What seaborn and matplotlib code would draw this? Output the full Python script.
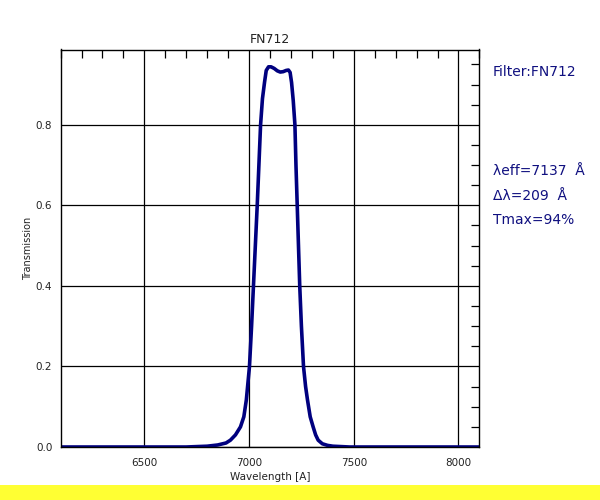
import matplotlib
matplotlib.use("Agg")
import matplotlib.pyplot as plt
import seaborn as sns
import pandas as pd
from matplotlib.ticker import MultipleLocator
from matplotlib.patches import Rectangle

sns.set_style("white")
plt.rcParams["font.family"] = ["DejaVu Sans"]


# --------------------------------------------------
# Filter curve
# --------------------------------------------------

wavelength = [6100, 6700, 6800, 6850, 6890, 6911, 6935, 6959, 6975, 6987,
              7002, 7012, 7021, 7030, 7039, 7047, 7055, 7064, 7074, 7082,
              7093, 7105, 7120, 7135, 7149, 7163, 7177, 7188, 7196, 7203,
              7211, 7219, 7224, 7230, 7236, 7242, 7250, 7260, 7270, 7279,
              7292, 7306, 7318, 7330, 7350, 7375, 7400, 7440, 7480, 7600,
              8100]

transmission = [0.0, 0.0, 0.002, 0.005, 0.01, 0.017, 0.03, 0.05, 0.075, 0.117,
                0.2, 0.3, 0.4, 0.5, 0.6, 0.7, 0.8, 0.865, 0.906, 0.935,
                0.944, 0.944, 0.94, 0.934, 0.931, 0.932, 0.935, 0.936, 0.93, 0.905,
                0.86, 0.8, 0.7, 0.6, 0.5, 0.4, 0.3, 0.2, 0.15, 0.117,
                0.075, 0.05, 0.03, 0.017, 0.008, 0.004, 0.002, 0.001, 0.0, 0.0,
                0.0]

filter_name = "FN712"
info_lines = ["\u03bbeff=7137  \u00c5", "\u0394\u03bb=209  \u00c5", "Tmax=94%"]

df = pd.DataFrame({"wavelength": wavelength, "transmission": transmission})


# --------------------------------------------------
# Plot
# --------------------------------------------------

fig = plt.figure(figsize=(6, 5), dpi=100)
ax = fig.add_axes([0.101, 0.106, 0.698, 0.795])

sns.lineplot(
    data=df,
    x="wavelength",
    y="transmission",
    color="#00007f",
    linewidth=2.6,
    ax=ax
)

ax.set_xlim(6100, 8100)
ax.set_ylim(0, 0.987)

ax.xaxis.set_major_locator(MultipleLocator(500))
ax.xaxis.set_minor_locator(MultipleLocator(100))
ax.yaxis.set_major_locator(MultipleLocator(0.2))
ax.yaxis.set_minor_locator(MultipleLocator(0.05))
ax.yaxis.set_major_formatter(plt.FormatStrFormatter("%.1f"))

ax.grid(True, which="major", color="black", linewidth=0.9)
ax.tick_params(which="both", direction="in", top=True, right=True,
               colors="black", labelcolor="#222222", labelsize=7.5)
ax.tick_params(which="major", length=0, pad=6)
ax.tick_params(axis="x", which="major", pad=8)
ax.tick_params(which="minor", length=6, width=0.9)

for spine in ax.spines.values():
    spine.set_color("black")
    spine.set_linewidth(1.0)

ax.set_title(filter_name, fontsize=9, color="#222222", pad=5)
ax.set_xlabel("Wavelength [A]", fontsize=7.5, color="#222222", labelpad=3)
ax.set_ylabel("Transmission", fontsize=7, color="#222222", labelpad=2)

# side annotations
fig.text(493 / 600, 1 - 72 / 500, "Filter:" + filter_name,
         fontsize=10, color="#101080", va="center", ha="left")
for i, line in enumerate(info_lines):
    fig.text(493 / 600, 1 - (171 + 24.5 * i) / 500, line,
             fontsize=10, color="#101080", va="center", ha="left")

# yellow strip at the bottom
fig.patches.append(Rectangle((0, 0), 1, 15 / 500, transform=fig.transFigure,
                             facecolor="#ffff33", edgecolor="none", zorder=0))

fig.savefig("out.png", dpi=100)
plt.close(fig)
